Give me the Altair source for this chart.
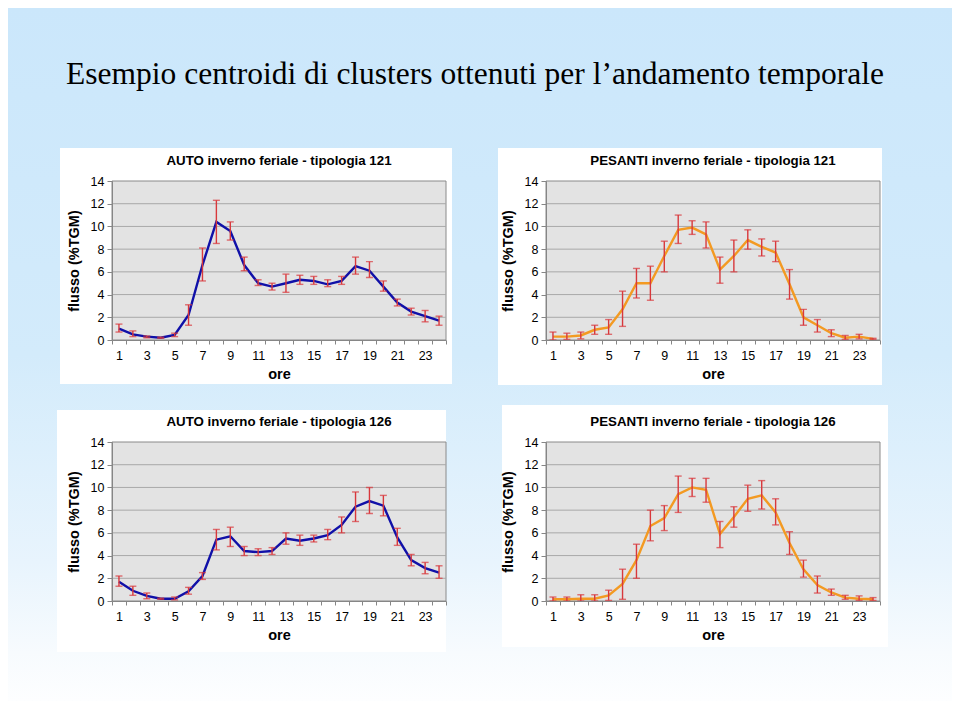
import altair as alt
import pandas as pd

# ---------------- data ----------------
hours = list(range(1, 25))

auto121_mean = [1.0, 0.5, 0.3, 0.2, 0.45, 2.2, 6.6, 10.4, 9.6, 6.6, 5.0, 4.7,
                5.0, 5.3, 5.2, 4.9, 5.2, 6.5, 6.1, 4.7, 3.3, 2.5, 2.1, 1.7]
auto121_low = [0.7, 0.3, 0.2, 0.15, 0.3, 1.3, 5.2, 8.5, 8.8, 6.1, 4.8, 4.4,
               4.2, 4.9, 4.9, 4.7, 4.9, 5.8, 5.5, 4.3, 3.0, 2.2, 1.6, 1.3]
auto121_high = [1.4, 0.8, 0.35, 0.25, 0.6, 3.1, 8.1, 12.3, 10.4, 7.3, 5.3, 5.0,
                5.8, 5.7, 5.6, 5.3, 5.6, 7.3, 6.9, 5.2, 3.6, 2.8, 2.6, 2.1]

pes121_mean = [0.3, 0.3, 0.4, 0.9, 1.1, 2.7, 5.0, 5.0, 7.4, 9.7, 9.9, 9.3,
               6.2, 7.4, 8.8, 8.2, 7.7, 4.9, 2.0, 1.3, 0.6, 0.2, 0.3, 0.1]
pes121_low = [0.0, 0.05, 0.1, 0.5, 0.5, 1.2, 3.7, 3.5, 6.0, 8.5, 9.3, 8.1,
              5.0, 6.0, 8.0, 7.4, 6.9, 3.6, 1.3, 0.7, 0.3, 0.05, 0.1, 0.05]
pes121_high = [0.7, 0.6, 0.7, 1.3, 1.8, 4.3, 6.3, 6.5, 8.7, 11.0, 10.5, 10.4,
               7.3, 8.8, 9.7, 8.9, 8.7, 6.2, 2.7, 1.8, 0.9, 0.4, 0.5, 0.15]

auto126_mean = [1.7, 0.9, 0.45, 0.2, 0.2, 0.85, 2.2, 5.4, 5.7, 4.4, 4.3, 4.4,
                5.5, 5.3, 5.5, 5.8, 6.7, 8.3, 8.8, 8.4, 5.6, 3.6, 2.9, 2.5]
auto126_low = [1.3, 0.5, 0.2, 0.15, 0.1, 0.6, 1.9, 4.5, 4.8, 4.0, 4.0, 4.1,
               5.0, 4.9, 5.2, 5.4, 6.0, 7.0, 7.7, 7.5, 4.9, 3.1, 2.4, 2.0]
auto126_high = [2.2, 1.3, 0.7, 0.25, 0.35, 1.2, 2.5, 6.3, 6.5, 4.8, 4.6, 4.7,
                6.0, 5.8, 5.8, 6.3, 7.4, 9.6, 10.0, 9.3, 6.4, 4.1, 3.4, 3.1]

pes126_mean = [0.15, 0.15, 0.2, 0.2, 0.5, 1.5, 3.6, 6.6, 7.3, 9.4, 10.0, 9.8,
               5.9, 7.4, 9.0, 9.3, 7.8, 5.1, 2.8, 1.4, 0.75, 0.3, 0.2, 0.15]
pes126_low = [0.0, 0.0, 0.0, 0.0, 0.05, 0.15, 2.0, 5.3, 6.2, 7.8, 9.2, 8.7,
              4.7, 6.5, 7.9, 8.1, 6.7, 4.1, 2.1, 0.7, 0.5, 0.15, 0.05, 0.05]
pes126_high = [0.35, 0.35, 0.55, 0.55, 0.95, 2.8, 5.0, 8.0, 8.4, 11.0, 10.8, 10.8,
               7.0, 8.3, 10.2, 10.6, 9.0, 6.1, 3.6, 2.2, 1.05, 0.5, 0.45, 0.3]

y_ticks = [0, 2, 4, 6, 8, 10, 12, 14]
grid_values = [2, 4, 6, 8, 10, 12]

main_title = "Esempio centroidi di clusters ottenuti per l\u2019andamento temporale"
titles = [
    "AUTO inverno feriale - tipologia 121",
    "PESANTI inverno  feriale - tipologia 121",
    "AUTO inverno feriale - tipologia 126",
    "PESANTI inverno  feriale - tipologia 126",
]

# ---------------- style ----------------
W, H = 334, 159
FONT = "Liberation Sans"
BLUE = "#1010a8"
ORANGE = "#f39a22"
RED = "#d8383c"
PLOT_FILL = "#e3e3e3"
PLOT_STROKE = "#8a8a8a"
GRID = "#a9a9a9"
AX = dict(zindex=1, labelFont=FONT, labelFontSize=12.5, labelColor="black",
          titleFont=FONT, titleFontSize=14.5, titleFontWeight="bold", titleColor="black",
          domainColor="#868686", tickColor="#868686")

one = alt.Data(values=[{}])

x_enc = alt.X(
    "ora:O",
    scale=alt.Scale(paddingInner=0, paddingOuter=0),
    axis=alt.Axis(
        title="ore", tickBand="extent", labelAngle=0, labelOverlap=False,
        labelExpr="datum.value % 2 == 1 ? datum.label : ''",
        tickSize=4, labelPadding=5, titlePadding=6, **AX,
    ),
)


def y_enc(field):
    return alt.Y(
        field,
        scale=alt.Scale(domain=[0, 14], nice=False, zero=True),
        axis=alt.Axis(title="flusso (%TGM)", values=y_ticks, grid=False,
                      tickSize=5, labelPadding=3, titlePadding=9, **AX),
    )


def panel(title, mean, low, high, color, box, extra_before=(), extra_after=()):
    df = pd.DataFrame({"ora": hours, "mean": mean, "low": low, "high": high})
    base = alt.Chart(df)
    bx0, by0, bx1, by1 = box
    white = alt.Chart(one).mark_rect(fill="white", clip=False).encode(
        x=alt.value(bx0), x2=alt.value(W + bx1), y=alt.value(by0), y2=alt.value(H + by1)
    )
    plot_bg = alt.Chart(one).mark_rect(
        fill=PLOT_FILL, stroke=PLOT_STROKE, strokeWidth=1
    ).encode(x=alt.value(0), x2=alt.value(W), y=alt.value(0), y2=alt.value(H))
    grid = alt.Chart(pd.DataFrame({"g": grid_values})).mark_rule(
        color=GRID, strokeWidth=1
    ).encode(y=y_enc("g:Q"), x=alt.value(0), x2=alt.value(W))
    line = base.mark_line(color=color, strokeWidth=2.4).encode(x=x_enc, y=y_enc("mean:Q"))
    err = base.mark_rule(color=RED, strokeWidth=1.4).encode(
        x=x_enc, y=y_enc("low:Q"), y2="high:Q"
    )
    caps = base.transform_fold(["low", "high"], as_=["k", "v"]).mark_tick(
        color=RED, thickness=1.4, size=7
    ).encode(x=x_enc, y=y_enc("v:Q"))
    ttl = alt.Chart(one).mark_text(
        text=title, font=FONT, fontSize=13.3, fontWeight="bold", color="black",
        align="center", baseline="alphabetic",
    ).encode(x=alt.value(W / 2), y=alt.value(-16))
    layers = list(extra_before) + [white, plot_bg, grid, line, err, caps, ttl] + list(extra_after)
    return alt.layer(*layers).properties(width=W, height=H)


# page background (vertical gradient) and main title, attached to first panel
bg = alt.Chart(one).mark_rect(
    clip=False,
    fill=alt.LinearGradient(
        gradient="linear", x1=0, x2=0, y1=0, y2=1,
        stops=[
            alt.GradientStop(offset=0, color="#cbe7fb"),
            alt.GradientStop(offset=0.5, color="#d3ebfb"),
            alt.GradientStop(offset=0.8, color="#e8f4fd"),
            alt.GradientStop(offset=0.93, color="#f7fbfe"),
            alt.GradientStop(offset=1, color="#fdfeff"),
        ],
    ),
).encode(x=alt.value(-104), x2=alt.value(840), y=alt.value(-173), y2=alt.value(520))

head = alt.Chart(one).mark_text(
    text=main_title, font="Liberation Serif", fontSize=31.5, color="black",
    align="center", baseline="alphabetic",
).encode(x=alt.value(363), y=alt.value(-97))

p1 = panel(titles[0], auto121_mean, auto121_low, auto121_high, BLUE,
           (-52, -33, 6, 44), extra_before=[bg], extra_after=[head])
p2 = panel(titles[1], pes121_mean, pes121_low, pes121_high, ORANGE, (-48, -33, 2, 45))
p3 = panel(titles[2], auto126_mean, auto126_low, auto126_high, BLUE, (-55, -32, 0, 51))
p4 = panel(titles[3], pes126_mean, pes126_low, pes126_high, ORANGE, (-44, -37, 8, 46))

chart = alt.concat(
    p1, p2, p3, p4, columns=2, bounds="flush",
    spacing=alt.RowColnumber(row=102, column=100),
).properties(padding=0).configure_view(
    strokeWidth=0
).configure_scale(bandPaddingInner=0)

chart.save("out.html", embed_options={"renderer": "svg", "actions": False})
